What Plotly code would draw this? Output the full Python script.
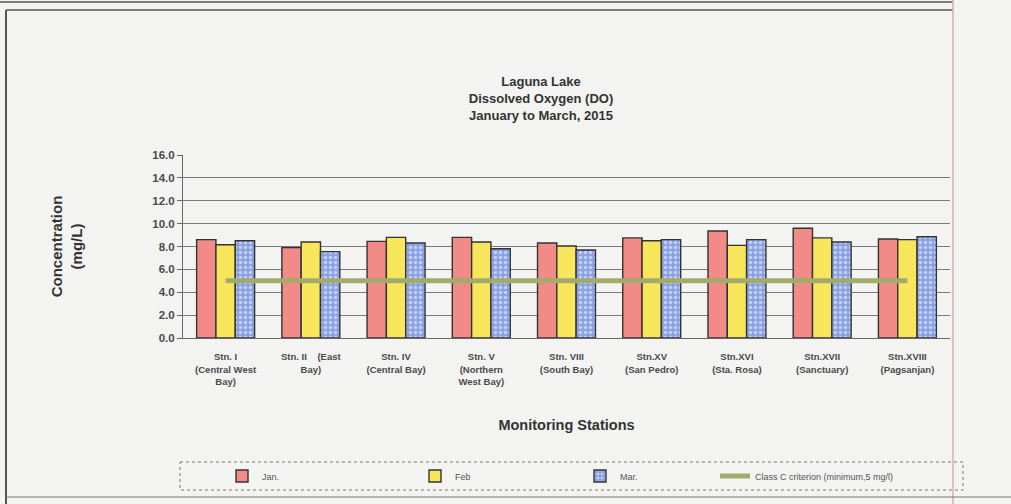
import plotly.graph_objects as go

stations = [
    "Stn. I<br>(Central West<br>Bay)",
    "Stn. II    (East<br>Bay)",
    "Stn. IV<br>(Central Bay)",
    "Stn. V<br>(Northern<br>West Bay)",
    "Stn. VIII<br>(South Bay)",
    "Stn.XV<br>(San Pedro)",
    "Stn.XVI<br>(Sta. Rosa)",
    "Stn.XVII<br>(Sanctuary)",
    "Stn.XVIII<br>(Pagsanjan)",
]
jan = [8.6, 7.9, 8.45, 8.8, 8.3, 8.75, 9.35, 9.6, 8.65]
feb = [8.15, 8.4, 8.8, 8.4, 8.05, 8.5, 8.1, 8.75, 8.6]
mar = [8.5, 7.55, 8.3, 7.8, 7.7, 8.6, 8.6, 8.4, 8.85]
criterion = [5.0] * 9

FONT = "Liberation Sans"
TXT = "#3a3a3a"
BG = "#f3f3f1"

W, H = 1011, 504
L, R, T, B = 183, 61, 155, 166
PW, PH = W - L - R, H - T - B


def px(x):
    return (x - L) / PW


def py(y):
    return (H - B - y) / PH


fig = go.Figure()
fig.add_trace(go.Bar(name="Jan.", x=stations, y=jan, legend="legend",
                     marker=dict(color="#f28a88", line=dict(color="#333333", width=1.4))))
fig.add_trace(go.Bar(name="Feb", x=stations, y=feb, legend="legend2",
                     marker=dict(color="#f7e65c", line=dict(color="#333333", width=1.4))))
fig.add_trace(go.Bar(name="Mar.", x=stations, y=mar, legend="legend3",
                     marker=dict(color="#8aa2e4", line=dict(color="#333333", width=1.4),
                                 pattern=dict(shape=".", bgcolor="#8aa2e4", fgcolor="#ffffff",
                                              size=5, solidity=0.35))))
fig.add_trace(go.Scatter(name="Class C criterion (minimum,5 mg/l)", x=stations, y=criterion,
                         legend="legend4", mode="lines", line=dict(color="#a2ab6c", width=5)))


def leg(xpix):
    return dict(orientation="h", x=px(xpix), xref="paper", xanchor="left",
                y=py(476), yref="paper", yanchor="middle",
                bgcolor="rgba(0,0,0,0)", bordercolor="rgba(0,0,0,0)",
                font=dict(family=FONT, size=9, color="#555555"), itemwidth=30)


fig.update_layout(
    width=W, height=H,
    paper_bgcolor=BG, plot_bgcolor=BG,
    margin=dict(l=L, r=R, t=T, b=B),
    barmode="group", bargap=0.32, bargroupgap=0.0,
    font=dict(family=FONT, color=TXT, size=10),
    title=dict(text="<b>Laguna Lake<br>Dissolved Oxygen (DO)<br>January to March, 2015</b>",
               x=541 / W, xref="container", xanchor="center",
               y=1 - 86 / H, yref="container", yanchor="top",
               font=dict(family=FONT, size=13, color="#333333")),
    showlegend=True,
    legend=leg(222), legend2=leg(415), legend3=leg(580), legend4=leg(715),
)

fig.update_xaxes(showline=True, linecolor="#666666", linewidth=1, ticks="",
                 ticklabelstandoff=10,
                 tickfont=dict(family=FONT, size=9.5, color="#4a4a4a", weight="bold"),
                 title=dict(text="<b>Monitoring Stations</b>", standoff=33,
                            font=dict(family=FONT, size=14.5, color="#333333")))
fig.update_yaxes(range=[0, 16], dtick=2, tickformat=".1f", showgrid=True,
                 gridcolor="#7a7a7a", gridwidth=1, showline=True, linecolor="#666666",
                 ticks="outside", ticklen=5, tickcolor="#666666",
                 tickfont=dict(family=FONT, size=11.5, color="#4a4a4a", weight="bold"),
                 title=dict(text="<b>Concentration<br>(mg/L)</b>", standoff=66,
                            font=dict(family=FONT, size=15, color="#333333")),
                 zeroline=False)

shapes = [
    dict(type="line", xref="paper", yref="paper", x0=px(0), x1=px(953),
         y0=py(2), y1=py(2), line=dict(color="#555555", width=1.5)),
    dict(type="line", xref="paper", yref="paper", x0=px(6), x1=px(953),
         y0=py(10), y1=py(10), line=dict(color="#555555", width=1.5)),
    dict(type="line", xref="paper", yref="paper", x0=px(6), x1=px(6),
         y0=py(10), y1=py(504), line=dict(color="#555555", width=2)),
    dict(type="line", xref="paper", yref="paper", x0=px(953), x1=px(953),
         y0=py(0), y1=py(504), line=dict(color="#e6a6b4", width=1.5)),
    dict(type="line", xref="paper", yref="paper", x0=px(6), x1=px(1011),
         y0=py(497), y1=py(497), line=dict(color="#777777", width=1)),
    dict(type="rect", xref="paper", yref="paper", x0=px(180), x1=px(963),
         y0=py(462), y1=py(490), line=dict(color="#777777", width=1, dash="dot")),
]
fig.update_layout(shapes=shapes)

fig.write_html("out.html", config={"displayModeBar": False},
               post_script="document.body.style.margin='0';document.body.style.overflow='hidden';")
